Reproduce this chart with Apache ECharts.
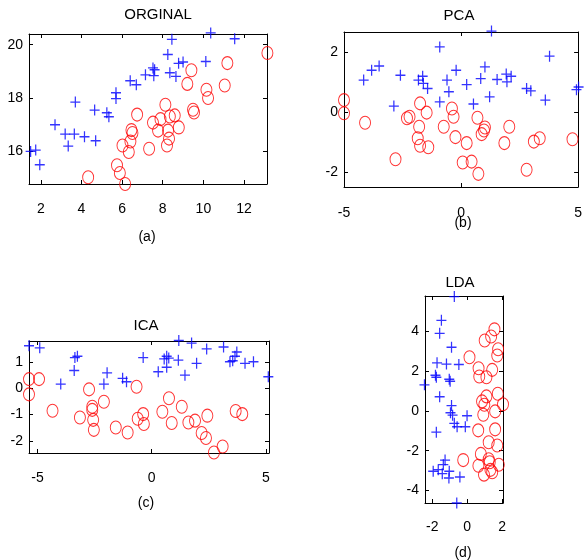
<!DOCTYPE html>
<html>
<head>
<meta charset="utf-8">
<script src="https://cdn.jsdelivr.net/npm/echarts@6/dist/echarts.min.js"></script>
<style>
  html, body { margin: 0; padding: 0; background: #fff; }
  #main { width: 585px; height: 560px; }
</style>
</head>
<body>
<div id="main"></div>
<script>
// (a) ORGINAL
const orgPlus = [
  [1.5, 16.0], [1.75, 16.05], [1.95, 15.5], [2.7, 17.0], [3.2, 16.65], [3.65, 16.65],
  [3.35, 16.2], [3.7, 17.85], [4.15, 16.55], [4.7, 16.4], [4.65, 17.55], [5.25, 17.45],
  [5.35, 17.3], [5.7, 18.2], [5.7, 17.98], [6.4, 18.65], [6.7, 18.5], [7.15, 18.87],
  [7.52, 19.13], [7.6, 19.06], [7.56, 18.84], [8.25, 19.63], [8.45, 20.2], [8.35, 18.95],
  [8.65, 18.81], [8.78, 19.3], [9.0, 19.35], [10.12, 19.37], [10.36, 20.44], [11.54, 20.22]
];
const orgCircle = [
  [4.33, 15.03], [5.75, 15.48], [5.89, 15.19], [6.15, 14.78], [6.02, 16.22], [6.33, 15.98],
  [6.41, 16.37], [6.51, 16.69], [6.46, 16.8], [6.74, 17.38], [7.33, 16.1], [7.52, 17.08],
  [7.77, 16.78], [7.89, 17.21], [8.13, 17.75], [8.35, 17.31], [8.59, 17.35], [8.79, 16.9],
  [8.26, 16.78], [8.31, 16.48], [8.21, 16.22], [9.41, 19.04], [9.21, 18.53], [9.49, 17.56],
  [9.54, 17.46], [10.15, 18.31], [10.23, 18.0], [11.18, 19.31], [11.05, 18.47], [13.15, 19.69]
];
// (b) PCA
const pcaPlus = [
  [-4.16, 1.08], [-3.82, 1.41], [-3.5, 1.55], [-2.87, 0.21], [-2.59, 1.24], [-1.82, 1.08],
  [-1.64, 1.21], [-1.61, 0.97], [-1.43, 0.8], [-0.91, 2.19], [-0.91, 0.35], [-0.6, 1.08],
  [-0.52, 0.69], [-0.21, 1.41], [0.24, 0.93], [0.53, 0.28], [0.84, 1.13], [1.02, 1.52],
  [1.22, 0.52], [1.3, 2.72], [1.54, 1.1], [1.93, 1.28], [1.96, 1.02], [2.14, 1.21],
  [2.8, 0.8], [2.98, 0.72], [3.6, 0.41], [3.78, 1.88], [4.93, 0.76], [5.02, 0.85]
];
const pcaCircle = [
  [-5.0, 0.41], [-5.0, -0.03], [-4.1, -0.35], [-2.8, -1.57], [-2.31, -0.2], [-2.2, -0.15],
  [-1.75, 0.3], [-1.47, -0.01], [-1.79, -0.48], [-1.85, -0.87], [-1.75, -1.12], [-1.4, -1.17],
  [-0.74, -0.48], [-0.39, 0.13], [-0.32, -0.15], [-0.24, -0.83], [0.24, -1.03], [0.07, -1.68],
  [0.45, -1.65], [0.74, -2.06], [0.7, -0.18], [0.88, -0.73], [0.98, -0.61], [1.02, -0.51],
  [1.85, -1.03], [2.06, -0.48], [2.8, -1.92], [3.11, -0.98], [3.36, -0.87], [4.76, -0.9]
];
// (c) ICA
const icaPlus = [
  [-5.37, 1.62], [-4.9, 1.54], [-3.98, 0.16], [-3.39, 0.68], [-3.36, 1.17], [-3.25, 1.22],
  [-2.09, 0.16], [-1.95, 0.59], [-1.27, 0.38], [-1.1, 0.25], [-0.37, 1.17], [0.29, 0.63],
  [0.55, 1.12], [0.66, 1.22], [0.66, 0.8], [0.75, 1.15], [1.17, 1.07], [1.19, 1.82],
  [1.46, 0.5], [1.75, 1.72], [1.97, 0.95], [2.41, 1.5], [3.15, 1.57], [3.43, 1.01],
  [3.55, 1.05], [3.65, 1.22], [3.73, 1.38], [4.09, 0.95], [4.46, 1.01], [5.11, 0.44]
];
const icaCircle = [
  [-5.37, 0.35], [-4.93, 0.35], [-5.37, -0.23], [-4.34, -0.85], [-3.14, -1.11], [-2.74, -0.04],
  [-2.6, -0.7], [-2.6, -0.82], [-2.56, -1.2], [-2.53, -1.58], [-2.09, -0.51], [-1.57, -1.49],
  [-1.05, -1.68], [-0.66, 0.06], [-0.61, -1.16], [-0.37, -0.98], [-0.34, -1.36], [0.47, -0.89],
  [0.76, -0.38], [0.88, -1.32], [1.32, -0.7], [1.61, -1.3], [1.9, -1.23], [2.44, -1.04],
  [2.19, -1.7], [2.38, -1.89], [2.73, -2.44], [3.11, -2.21], [3.68, -0.86], [3.97, -0.98]
];
// (d) LDA
const ldaPlus = [
  [-0.74, 5.72], [-1.48, 4.53], [-1.58, 3.88], [-0.9, 3.18], [-1.73, 2.4], [-1.19, 2.34],
  [-0.48, 2.32], [-1.82, 1.78], [-1.77, 1.68], [-1.03, 1.58], [-0.98, 1.48], [-2.45, 1.3],
  [-1.58, 0.7], [-0.9, 0.26], [-0.96, -0.1], [-0.84, -0.22], [-0.74, -0.63], [-0.58, -0.8],
  [-0.11, -0.8], [-0.01, -0.25], [-1.77, -1.07], [-1.27, -2.47], [-1.37, -2.7], [-1.95, -3.03],
  [-1.66, -2.95], [-1.43, -3.15], [-1.03, -3.03], [-1.05, -3.37], [-0.42, -3.32], [-0.6, -4.62]
];
const ldaCircle = [
  [1.56, 4.08], [1.37, 3.72], [1.0, 3.52], [1.77, 3.08], [1.72, 2.77], [0.13, 2.68],
  [0.65, 2.13], [1.43, 2.05], [0.69, 1.72], [1.1, 1.68], [1.75, 0.85], [1.1, 0.72],
  [0.85, 0.47], [0.98, 0.3], [2.05, 0.33], [0.92, -0.2], [1.6, -0.03], [0.63, -0.98],
  [1.6, -0.93], [1.23, -1.58], [1.72, -1.74], [-0.23, -2.47], [0.78, -2.16], [1.23, -2.43],
  [1.29, -2.58], [0.64, -2.75], [1.81, -2.7], [1.33, -2.96], [0.96, -3.2], [1.43, -3.08]
];

const xTicksA = [2, 4, 6, 8, 10, 12];
const yTicksA = [16, 18, 20];
const xTicksB = [-5, 0, 5];
const yTicksB = [-2, 0, 2];
const xTicksC = [-5, 0, 5];
const yTicksC = [-2, -1, 0, 1];
const xTicksD = [-2, 0, 2];
const yTicksD = [-4, -2, 0, 2, 4];

const titles = ['ORGINAL', 'PCA', 'ICA', 'LDA'];
const captions = ['(a)', '(b)', '(c)', '(d)'];

const font = 'Liberation Sans, Arial, sans-serif';
const panels = [
  { grid: { left: 29, top: 34, width: 238, height: 150 }, x: [1.42, 13.13], y: [14.78, 20.4], xt: xTicksA, yt: yTicksA, plus: orgPlus, circ: orgCircle, xm: 18, yshift: 2, title: [158, 15], cap: [147, 237] },
  { grid: { left: 344, top: 32, width: 239, height: 155 }, x: [-5, 5], y: [-2.5, 2.69], xt: xTicksB, yt: yTicksB, plus: pcaPlus, circ: pcaCircle, xm: 19, yshift: 9, title: [459, 16], cap: [463, 223] },
  { grid: { left: 29, top: 341, width: 240, height: 112 }, x: [-5.37, 5.14], y: [-2.46, 1.8], xt: xTicksC, yt: yTicksC, plus: icaPlus, circ: icaCircle, xm: 18, yshift: 10, title: [146, 326], cap: [146, 503] },
  { grid: { left: 425, top: 296, width: 78, height: 207 }, x: [-2.42, 2.05], y: [-4.62, 5.75], xt: xTicksD, yt: yTicksD, plus: ldaPlus, circ: ldaCircle, xm: 17, yshift: 8, title: [460, 283], cap: [463, 553] }
]

const grid = [], xAxis = [], yAxis = [], series = [], graphic = []
panels.forEach((p, i) => {
  grid.push(p.grid)
  const line = { show: true, onZero: false, lineStyle: { color: '#000', width: 1 } }
  const label = { fontSize: 14, color: '#000', fontFamily: font }
  xAxis.push({
    gridIndex: i, type: 'value', position: 'bottom', min: p.x[0], max: p.x[1],
    axisLine: line, splitLine: { show: false },
    axisTick: { inside: true, length: 4, customValues: p.xt, lineStyle: { color: '#000' } },
    axisLabel: Object.assign({ customValues: p.xt, margin: p.xm }, label)
  })
  xAxis.push({
    gridIndex: i, type: 'value', position: 'top', min: p.x[0], max: p.x[1],
    axisLine: line, splitLine: { show: false },
    axisTick: { inside: true, length: 4, customValues: p.xt, lineStyle: { color: '#000' } },
    axisLabel: { show: false }
  })
  yAxis.push({
    gridIndex: i, type: 'value', position: 'left', min: p.y[0], max: p.y[1],
    axisLine: line, splitLine: { show: false },
    axisTick: { inside: true, length: 4, customValues: p.yt, lineStyle: { color: '#000' } },
    axisLabel: Object.assign({ customValues: p.yt, margin: 6, padding: [p.yshift, 0, 0, 0] }, label)
  })
  yAxis.push({
    gridIndex: i, type: 'value', position: 'right', min: p.y[0], max: p.y[1],
    axisLine: line, splitLine: { show: false },
    axisTick: { inside: true, length: 4, customValues: p.yt, lineStyle: { color: '#000' } },
    axisLabel: { show: false }
  })
  series.push({
    type: 'scatter', xAxisIndex: 2 * i, yAxisIndex: 2 * i, data: p.plus, clip: false,
    symbol: 'path://M0,5H10M5,0V10', symbolSize: [10, 11],
    itemStyle: { color: 'none', borderColor: '#0000ff', borderWidth: 1.3 },
    silent: true, animation: false
  })
  series.push({
    type: 'scatter', xAxisIndex: 2 * i, yAxisIndex: 2 * i, data: p.circ, clip: false,
    symbol: 'circle', symbolSize: [11, 13],
    itemStyle: { color: 'rgba(0,0,0,0)', borderColor: '#ff0000', borderWidth: 1 },
    silent: true, animation: false
  })
  graphic.push({
    type: 'text', x: p.title[0], y: p.title[1],
    style: { text: titles[i], fontSize: 15, fill: '#000', fontFamily: font, textAlign: 'center', textVerticalAlign: 'middle' }
  })
  graphic.push({
    type: 'text', x: p.cap[0], y: p.cap[1],
    style: { text: captions[i], fontSize: 14, fill: '#000', fontFamily: font, textAlign: 'center', textVerticalAlign: 'middle' }
  })
})

const chart = echarts.init(document.getElementById('main'))
chart.setOption({
  backgroundColor: '#fff',
  animation: false,
  grid, xAxis, yAxis, series, graphic
})
</script>
</body>
</html>
